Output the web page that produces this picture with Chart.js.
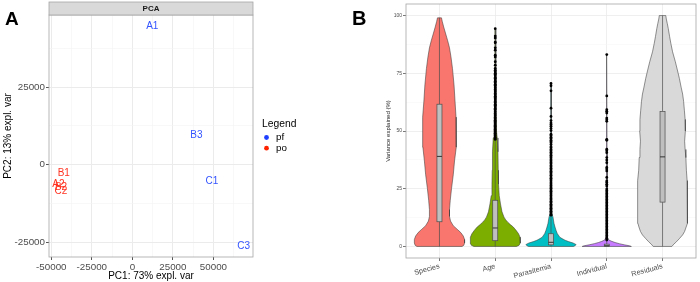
<!DOCTYPE html>
<html>
<head>
<meta charset="utf-8">
<script src="https://cdn.jsdelivr.net/npm/chart.js@4.4.0/dist/chart.umd.min.js"></script>
<style>
  html, body { margin: 0; padding: 0; background: #fff; }
  #wrap { position: relative; width: 700px; height: 282px; overflow: hidden; }
  canvas { position: absolute; top: 0; }
</style>
</head>
<body>
<div id="wrap">
  <canvas id="pcaChart" width="350" height="282" style="left:0"></canvas>
  <canvas id="violinChart" width="350" height="282" style="left:350px"></canvas>
</div>
<script>
// ---- panel A data (PCA) ----
const pcaNames = ['A1', 'B3', 'C1', 'C3', 'B1', 'A2', 'B2', 'C2'];
const pcaGroup = ['pf', 'pf', 'pf', 'pf', 'po', 'po', 'po', 'po'];
const pc1 = [12300, 39500, 49100, 68700, -42300, -45600, -44000, -44000];
const pc2 = [44650, 9500, -5200, -26200, -2700, -6200, -7200, -8700];
const legendGroups = ['pf', 'po'];
const pcaXTicks = [-50000, -37500, -25000, -12500, 0, 12500, 25000, 37500, 50000, 62500];
const pcaYTicks = [-25000, -12500, 0, 12500, 25000, 37500];

// ---- panel B data (variance partition) ----
const categories = ['Species', 'Age', 'Parasitemia', 'Individual', 'Residuals'];
const varTicks = [0, 12.5, 25, 37.5, 50, 62.5, 75, 87.5, 100];

// violin outlines: level (%) and relative half width
const speciesY = [0, 0.5, 1.5, 3, 4.5, 6, 7.5, 9, 11, 13, 16, 20, 25, 31, 37, 43, 50, 56, 63, 70, 77, 82, 86, 89, 92, 95, 97.5, 99];
const speciesW = [0.9, 0.97, 1.0, 1.0, 0.95, 0.85, 0.7, 0.55, 0.44, 0.4, 0.4, 0.43, 0.48, 0.55, 0.6, 0.66, 0.68, 0.66, 0.62, 0.58, 0.52, 0.46, 0.4, 0.33, 0.25, 0.17, 0.11, 0.08];
const ageY = [0, 0.5, 1.5, 4, 5.5, 7, 8.4, 9.5, 10.5, 11.5, 12.7, 15, 18.4, 22, 27, 33, 41, 47, 50, 60, 75, 94];
const ageW = [0.85, 0.95, 1.0, 0.99, 0.93, 0.83, 0.72, 0.6, 0.5, 0.42, 0.35, 0.27, 0.21, 0.16, 0.13, 0.12, 0.11, 0.08, 0.05, 0.03, 0.02, 0.01];
const parasY = [0, 0.4, 0.8, 1.5, 2.1, 2.7, 3.4, 4, 5.6, 7, 8.4, 10, 12.7, 14, 20, 40, 70.6];
const parasW = [0.9, 0.97, 1.0, 0.88, 0.7, 0.56, 0.44, 0.35, 0.25, 0.2, 0.16, 0.12, 0.08, 0.04, 0.02, 0.01, 0.005];
const indivY = [0, 0.3, 0.7, 1.2, 1.7, 2.2, 2.8, 4, 10, 40, 83];
const indivW = [0.98, 0.9, 0.7, 0.5, 0.33, 0.2, 0.08, 0.03, 0.015, 0.01, 0.005];
const residY = [0, 1, 2, 3.5, 5, 6.5, 8.4, 10, 12, 17, 22, 28.5, 33, 38.5, 42, 45.6, 50, 55, 59, 62.8, 66, 69, 72.8, 76, 80, 84.3, 88, 91, 94.3, 96.5, 98.5, 100];
const residW = [0.37, 0.45, 0.55, 0.68, 0.8, 0.88, 0.94, 0.98, 1.0, 1.0, 0.99, 0.98, 0.95, 0.93, 0.9, 0.88, 0.91, 0.9, 0.87, 0.84, 0.8, 0.74, 0.67, 0.6, 0.51, 0.4, 0.33, 0.28, 0.23, 0.19, 0.15, 0.13];

// box plot stats per category
const boxLow = [0, 0, 0, 0, 0];
const boxQ1 = [10.7, 2.5, 0.7, 0.1, 19.2];
const boxMed = [39, 8, 1.8, 0.3, 38.8];
const boxQ3 = [61.6, 20, 5.5, 1.0, 58.5];
const boxHigh = [99, 46, 13, 2.5, 100];

// outliers
const ageOut = [94.3, 91.1, 90.3, 88.5, 88.2, 86.0, 85.0, 82.8, 82.1, 80.0, 78.5, 77.1, 76.3, 75.7, 75.0, 74.6, 73.9, 73.2, 72.8, 72.1, 71.5, 71.0, 70.3, 69.8, 69.1, 68.6, 68.0, 67.4, 66.9, 66.2, 65.7, 65.1, 64.5, 64.0, 63.4, 62.8, 62.3, 61.6, 61.1, 60.5, 59.9, 59.4, 58.7, 58.2, 57.6, 57.0, 56.5, 55.8, 55.3, 54.7, 54.1, 53.6, 53.0, 52.4, 51.9, 51.3, 50.7, 50.1, 49.6, 49.0, 48.4, 47.9, 47.3, 46.8, 46.3];
const parasOut = [70.6, 69.6, 67.4, 59.9, 56.3, 54.5, 53.5, 52.8, 52.1, 51.1, 50.2, 48.6, 48.0, 47.3, 46.7, 46.0, 45.4, 44.9, 44.1, 43.2, 42.7, 42.0, 41.5, 40.8, 40.1, 39.5, 38.9, 38.3, 37.6, 37.0, 36.4, 35.8, 35.1, 34.5, 33.9, 33.2, 32.6, 32.0, 31.4, 30.8, 30.1, 29.5, 28.9, 28.3, 27.6, 27.0, 26.4, 25.8, 25.2, 24.5, 23.9, 23.3, 22.7, 22.1, 21.4, 20.8, 20.2, 19.6, 19.0, 18.3, 17.7, 17.1, 16.5, 15.9, 15.2, 14.6, 14.0, 13.5];
const indivOut = [83.1, 65.2, 59.2, 58.5, 57.8, 55.6, 54.9, 54.2, 46.4, 46.0, 42.1, 41.4, 40.6, 38.5, 37.4, 36.3, 34.2, 33.5, 32.7, 29.9, 28.4, 27.7, 26.9, 26.2, 24.9, 24.2, 23.6, 22.9, 22.3, 21.6, 21.0, 20.3, 19.7, 19.0, 18.4, 17.7, 17.1, 16.4, 15.8, 15.1, 14.5, 13.8, 13.2, 12.5, 11.9, 11.2, 10.6, 9.9, 9.3, 8.6, 8.0, 7.3, 6.7, 6.0, 5.4, 4.7, 4.1, 3.4, 2.8];

// ---- styles ----
const FONT = "'Liberation Sans', Arial, sans-serif";
const groupColors = { pf: '#3354ff', po: '#ff3322' };
const legendDotColors = { pf: '#1f3fff', po: '#ff2200' };
const violinFill = ['#F8766D', '#7CAE00', '#00BFC4', '#C77CFF', '#D9D9D9'];
const violinHalf = 0.45;
const boxHalf = 0.045;
const gridMajor = '#ebebeb';
const gridMinor = '#f4f4f4';
const frameColor = '#a6a6a6';

Chart.defaults.font.family = FONT;
Chart.defaults.animation = false;

function isMajor(v, step) { return Math.abs(v % step) < 1e-6; }

// ================= Panel A =================
const pcaDatasets = legendGroups.map(g => ({
  label: g,
  data: pcaNames.map((n, i) => ({ x: pc1[i], y: pc2[i], name: n, g: pcaGroup[i] })).filter(p => p.g === g),
  pointRadius: 0,
  pointHoverRadius: 0,
  backgroundColor: groupColors[g]
}));

const pcaDecor = {
  id: 'pcaDecor',
  afterDatasetsDraw(chart) {
    const ctx = chart.ctx;
    ctx.save();
    ctx.font = '10px ' + FONT;
    ctx.textAlign = 'center';
    ctx.textBaseline = 'middle';
    chart.data.datasets.forEach((ds, i) => {
      const meta = chart.getDatasetMeta(i);
      ctx.fillStyle = groupColors[ds.label];
      meta.data.forEach((pt, j) => ctx.fillText(ds.data[j].name, pt.x, pt.y));
    });
    ctx.restore();
  },
  afterDraw(chart) {
    const { ctx, chartArea: a } = chart;
    ctx.save();
    // panel frame
    ctx.strokeStyle = frameColor;
    ctx.lineWidth = 0.8;
    ctx.strokeRect(a.left, a.top, a.right - a.left, a.bottom - a.top);
    // strip
    ctx.fillStyle = '#d9d9d9';
    ctx.fillRect(a.left, 2, a.right - a.left, a.top - 2);
    ctx.strokeRect(a.left, 2, a.right - a.left, a.top - 2);
    ctx.fillStyle = '#1a1a1a';
    ctx.font = 'bold 8px ' + FONT;
    ctx.textAlign = 'center';
    ctx.textBaseline = 'middle';
    ctx.fillText('PCA', (a.left + a.right) / 2, (a.top + 2) / 2 + 0.5);
    // panel letter
    ctx.fillStyle = '#000';
    ctx.font = 'bold 19px ' + FONT;
    ctx.textAlign = 'left';
    ctx.textBaseline = 'alphabetic';
    ctx.fillText('A', 5, 25);
    // legend
    const lx = a.right + 9;
    ctx.font = '10.3px ' + FONT;
    ctx.textBaseline = 'middle';
    ctx.fillStyle = '#000';
    ctx.fillText('Legend', lx, 124);
    legendGroups.forEach((g, k) => {
      const y = 137.5 + k * 10.7;
      ctx.fillStyle = legendDotColors[g];
      ctx.beginPath();
      ctx.arc(lx + 4.5, y, 2.4, 0, Math.PI * 2);
      ctx.fill();
      ctx.fillStyle = '#000';
      ctx.font = '9.8px ' + FONT;
      ctx.fillText(g, lx + 14, y);
    });
    ctx.restore();
  }
};

new Chart(document.getElementById('pcaChart'), {
  type: 'scatter',
  data: { datasets: pcaDatasets },
  options: {
    responsive: false,
    devicePixelRatio: 1,
    layout: { padding: { top: 15, right: 97, bottom: 0, left: 0 } },
    plugins: { legend: { display: false }, tooltip: { enabled: false } },
    scales: {
      x: {
        type: 'linear', min: -51400, max: 74400,
        afterBuildTicks: ax => { ax.ticks = pcaXTicks.map(v => ({ value: v })); },
        afterFit: s => { s.height = 25; },
        border: { display: false },
        grid: {
          color: c => isMajor(c.tick.value, 25000) ? gridMajor : gridMinor,
          lineWidth: c => isMajor(c.tick.value, 25000) ? 1 : 0.6,
          tickColor: c => isMajor(c.tick.value, 25000) ? '#555' : 'rgba(0,0,0,0)',
          tickLength: 3
        },
        ticks: {
          autoSkip: false, maxRotation: 0, padding: 1,
          color: '#4d4d4d', font: { size: 9.8 },
          callback: v => isMajor(v, 25000) ? String(v) : ''
        },
        title: { display: true, text: 'PC1: 73% expl. var', color: '#000', font: { size: 10 }, padding: { top: 0, bottom: 0 } }
      },
      y: {
        type: 'linear', min: -29720, max: 48190,
        afterBuildTicks: ax => { ax.ticks = pcaYTicks.map(v => ({ value: v })); },
        afterFit: s => { s.width = 49; },
        border: { display: false },
        grid: {
          color: c => isMajor(c.tick.value, 25000) ? gridMajor : gridMinor,
          lineWidth: c => isMajor(c.tick.value, 25000) ? 1 : 0.6,
          tickColor: c => isMajor(c.tick.value, 25000) ? '#555' : 'rgba(0,0,0,0)',
          tickLength: 3
        },
        ticks: {
          autoSkip: false, padding: 1,
          color: '#4d4d4d', font: { size: 9.8 },
          callback: v => isMajor(v, 25000) ? String(v) : ''
        },
        title: { display: true, text: 'PC2: 13% expl. var', color: '#000', font: { size: 10 }, padding: { top: 2.3, bottom: 0 } }
      }
    }
  },
  plugins: [pcaDecor]
});

// ================= Panel B =================
const profiles = [[speciesY, speciesW], [ageY, ageW], [parasY, parasW], [indivY, indivW], [residY, residW]];
const outliers = [[], ageOut, parasOut, indivOut, []];

function violinOutline(center, ys, ws) {
  const pts = [];
  for (let k = 0; k < ys.length; k++) pts.push({ x: center - ws[k] * violinHalf, y: ys[k] });
  for (let k = ys.length - 1; k >= 0; k--) pts.push({ x: center + ws[k] * violinHalf, y: ys[k] });
  pts.push(pts[0]);
  return pts;
}

const violinSets = profiles.map(([ys, ws], i) => ({
  type: 'line',
  label: categories[i],
  data: violinOutline(i + 1, ys, ws),
  backgroundColor: violinFill[i],
  borderColor: '#3a3a3a',
  borderWidth: 0.55,
  fill: 'shape',
  tension: 0,
  pointRadius: 0,
  order: 2
}));

const outlierSets = outliers.map((vals, i) => ({
  type: 'scatter',
  label: categories[i] + ' outliers',
  data: vals.map(v => ({ x: i + 1, y: v })),
  backgroundColor: '#000',
  borderWidth: 0,
  pointRadius: 1.4,
  order: 1
}));

const boxPlugin = {
  id: 'boxes',
  afterDatasetsDraw(chart) {
    const { ctx, scales: { x, y } } = chart;
    ctx.save();
    categories.forEach((c, i) => {
      const cx = x.getPixelForValue(i + 1);
      const l = x.getPixelForValue(i + 1 - boxHalf);
      const r = x.getPixelForValue(i + 1 + boxHalf);
      ctx.strokeStyle = '#4d4d4d';
      ctx.lineWidth = 0.7;
      ctx.beginPath();
      ctx.moveTo(cx, y.getPixelForValue(boxLow[i]));
      ctx.lineTo(cx, y.getPixelForValue(boxQ1[i]));
      ctx.moveTo(cx, y.getPixelForValue(boxQ3[i]));
      ctx.lineTo(cx, y.getPixelForValue(boxHigh[i]));
      ctx.stroke();
      const top = y.getPixelForValue(boxQ3[i]);
      const bot = y.getPixelForValue(boxQ1[i]);
      ctx.fillStyle = '#bfbfbf';
      ctx.fillRect(l, top, r - l, bot - top);
      ctx.strokeRect(l, top, r - l, bot - top);
      ctx.lineWidth = 1;
      ctx.strokeStyle = '#333';
      ctx.beginPath();
      const m = y.getPixelForValue(boxMed[i]);
      ctx.moveTo(l, m);
      ctx.lineTo(r, m);
      ctx.stroke();
    });
    ctx.restore();
  },
  afterDraw(chart) {
    const { ctx, chartArea: a } = chart;
    ctx.save();
    ctx.strokeStyle = frameColor;
    ctx.lineWidth = 0.8;
    ctx.strokeRect(a.left, a.top, a.right - a.left, a.bottom - a.top);
    ctx.fillStyle = '#000';
    ctx.font = 'bold 20px ' + FONT;
    ctx.textBaseline = 'alphabetic';
    ctx.fillText('B', 2, 25);
    ctx.restore();
  }
};

new Chart(document.getElementById('violinChart'), {
  type: 'scatter',
  data: { datasets: [...violinSets, ...outlierSets] },
  options: {
    responsive: false,
    devicePixelRatio: 1,
    layout: { padding: { top: 2, right: 1, bottom: 0, left: 0 } },
    plugins: { legend: { display: false }, tooltip: { enabled: false } },
    scales: {
      x: {
        type: 'linear', min: 0.4, max: 5.6,
        afterBuildTicks: ax => { ax.ticks = categories.map((c, i) => ({ value: i + 1 })); },
        afterFit: s => { s.height = 24; },
        border: { display: false },
        grid: { color: gridMajor, lineWidth: 0.8, tickColor: '#555', tickLength: 3 },
        ticks: {
          autoSkip: false, minRotation: 15, maxRotation: 15, padding: 1,
          color: '#4d4d4d', font: { size: 7.3 },
          callback: v => categories[Math.round(v) - 1]
        }
      },
      y: {
        type: 'linear', min: -5, max: 105,
        afterBuildTicks: ax => { ax.ticks = varTicks.map(v => ({ value: v })); },
        afterFit: s => { s.width = 56; },
        border: { display: false },
        grid: {
          color: c => isMajor(c.tick.value, 25) ? gridMajor : gridMinor,
          lineWidth: c => isMajor(c.tick.value, 25) ? 0.8 : 0.5,
          tickColor: c => isMajor(c.tick.value, 25) ? '#555' : 'rgba(0,0,0,0)',
          tickLength: 3
        },
        ticks: {
          autoSkip: false, padding: 1,
          color: '#4d4d4d', font: { size: 5 },
          callback: v => isMajor(v, 25) ? String(v) : ''
        },
        title: { display: true, text: 'Variance explained (%)', color: '#1a1a1a', font: { size: 6 }, padding: { top: 34.7, bottom: 0 } }
      }
    }
  },
  plugins: [boxPlugin]
});
</script>
</body>
</html>
